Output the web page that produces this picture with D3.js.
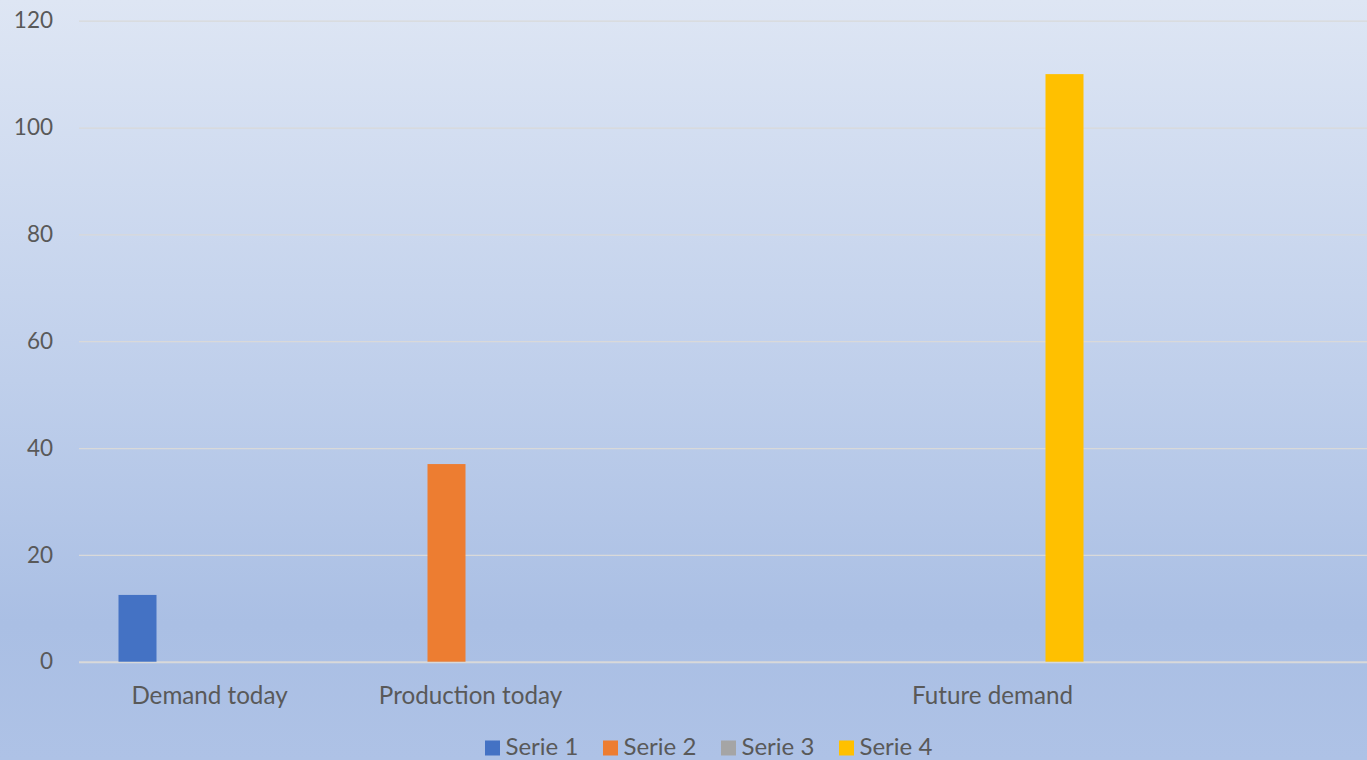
<!DOCTYPE html>
<html><head><meta charset="utf-8">
<script src="https://cdn.jsdelivr.net/npm/d3@7"></script>
<style>html,body{margin:0;padding:0;overflow:hidden;background:#fff}svg{display:block}</style>
</head><body><svg id="chart" width="1367" height="760"></svg>
<script>
// ---- data ----
const categories = ["Demand today", "Production today", "", "Future demand", ""];
const seriesNames = ["Serie 1", "Serie 2", "Serie 3", "Serie 4"];
const serie1 = [12.5, null, null, null, null];
const serie2 = [null, 37, null, null, null];
const serie3 = [null, null, null, null, null];
const serie4 = [null, null, null, 110, null];
const yTicks = [0, 20, 40, 60, 80, 100, 120];
const colors = ["#4472C4", "#ED7D31", "#A5A5A5", "#FFC000"];

const seriesValues = [serie1, serie2, serie3, serie4];
const W = 1367, H = 760;
const FONT = "Lato, 'Open Sans', sans-serif";
const TEXT = "#595959";

const svg = d3.select("#chart");
const defs = svg.append("defs");
const grad = defs.append("linearGradient").attr("id", "bg")
  .attr("x1", 0).attr("y1", 0).attr("x2", 0).attr("y2", 1);
[[0, "#DEE6F4"], [0.5, "#BFCFEB"], [0.82, "#AABFE4"], [1, "#AEC2E6"]]
  .forEach(([o, c]) => grad.append("stop").attr("offset", o).attr("stop-color", c));
svg.append("rect").attr("width", W).attr("height", H).attr("fill", "url(#bg)");

const plotLeft = 79, plotRight = 1384;
const y = d3.scaleLinear().domain([0, 120]).range([661.7, 20.7]);
const x0 = d3.scaleBand().domain(d3.range(categories.length)).range([plotLeft, plotRight]).padding(0);
const cluster = 182;
const x1 = d3.scaleBand().domain(d3.range(seriesNames.length))
  .range([(x0.bandwidth() - cluster) / 2, (x0.bandwidth() + cluster) / 2])
  .paddingInner(10 / 48).paddingOuter(0);

// y axis + gridlines
const yAxis = svg.append("g").attr("transform", `translate(${plotLeft},0)`)
  .call(d3.axisLeft(y).tickValues(yTicks).tickSize(-(W - plotLeft)).tickPadding(26));
yAxis.select(".domain").remove();
yAxis.selectAll(".tick line").attr("stroke", "#D9D9D9").attr("stroke-width", d => d === 0 ? 2 : 1.2);
yAxis.selectAll(".tick text").attr("fill", TEXT).attr("font-family", FONT).attr("font-size", 22.5);

// bars
const groups = svg.append("g").selectAll("g").data(categories.map((c, i) => i)).join("g")
  .attr("transform", i => `translate(${x0(i)},0)`);
groups.selectAll("rect")
  .data(i => seriesValues.map((vals, s) => ({ s, v: vals[i] })).filter(d => d.v != null))
  .join("rect")
  .attr("x", d => x1(d.s))
  .attr("width", x1.bandwidth())
  .attr("y", d => y(d.v))
  .attr("height", d => y(0) - y(d.v))
  .attr("fill", d => colors[d.s]);

// x axis labels
const xAxis = svg.append("g").attr("transform", `translate(0,${y(0)})`)
  .call(d3.axisBottom(x0).tickSize(0).tickPadding(25.5).tickFormat(i => categories[i]));
xAxis.select(".domain").remove();
xAxis.selectAll(".tick text").attr("fill", TEXT).attr("font-family", FONT).attr("font-size", 24.2);

// legend
const legend = svg.append("g").attr("transform", "translate(485,740.5)");
const li = legend.selectAll("g").data(seriesNames).join("g")
  .attr("transform", (d, i) => `translate(${i * 118},0)`);
li.append("rect").attr("width", 15).attr("height", 15).attr("fill", (d, i) => colors[i]);
li.append("text").attr("x", 20.5).attr("y", 14.5).text(d => d)
  .attr("fill", TEXT).attr("font-family", FONT).attr("font-size", 24);
</script>
</body></html>
